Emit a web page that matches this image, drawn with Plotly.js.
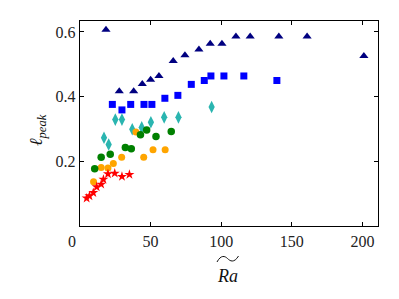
<!DOCTYPE html>
<html>
<head>
<meta charset="utf-8">
<script src="https://cdn.plot.ly/plotly-3.0.1.min.js"></script>
<style>html,body{margin:0;padding:0;background:#fff;}</style>
</head>
<body>
<div id="chart" style="width:399px;height:299px;"></div>
<script>
// Data
const navyX = [18.4, 27.8, 38.0, 44.1, 50.0, 55.9, 66.0, 74.3, 84.2, 92.2, 100.5, 110.4, 120.5, 140.8, 160.8, 201.0];
const navyY = [0.607, 0.417, 0.417, 0.439, 0.452, 0.464, 0.510, 0.528, 0.546, 0.564, 0.564, 0.586, 0.586, 0.586, 0.586, 0.526];

const blueX = [22.9, 29.7, 35.9, 45.3, 50.9, 60.1, 69.3, 78.8, 88.0, 92.7, 101.9, 116.0, 139.4];
const blueY = [0.376, 0.359, 0.376, 0.376, 0.376, 0.395, 0.404, 0.438, 0.450, 0.464, 0.464, 0.464, 0.450];

const cyanX = [17.0, 20.3, 25.0, 29.7, 37.0, 43.7, 50.2, 59.6, 69.7, 93.2];
const cyanY = [0.273, 0.252, 0.329, 0.329, 0.299, 0.305, 0.321, 0.336, 0.336, 0.368];

const orangeX = [9.6, 15.0, 19.8, 23.6, 29.5, 39.6, 45.1, 51.7, 60.3];
const orangeY = [0.137, 0.181, 0.179, 0.193, 0.213, 0.291, 0.213, 0.236, 0.236];

const greenX = [10.4, 15.0, 21.4, 32.1, 36.3, 42.8, 47.2, 53.8, 64.6];
const greenY = [0.177, 0.213, 0.222, 0.243, 0.239, 0.282, 0.297, 0.277, 0.292];

const redX = [4.7, 6.7, 9.4, 11.8, 15.0, 16.6, 19.8, 24.6, 29.7, 35.0];
const redY = [0.086, 0.093, 0.103, 0.121, 0.129, 0.144, 0.161, 0.163, 0.153, 0.159];

const xTicks = [50, 100, 150, 200];
const yTicks = [0.2, 0.4, 0.6];

function tr(x, y, sym, color, size) {
  return {x: x, y: y, type: 'scatter', mode: 'markers',
    marker: {symbol: sym, color: color, size: size, line: {width: 0}},
    hoverinfo: 'skip', showlegend: false};
}

const data = [
  tr(navyX, navyY, 'triangle-up', '#000080', 8),
  tr(blueX, blueY, 'square', '#0000FF', 7),
  tr(cyanX, cyanY, 'diamond-tall', '#2AB5B0', 9),
  tr(orangeX, orangeY, 'circle', '#FFA500', 7),
  tr(greenX, greenY, 'circle', '#008000', 7.5),
  tr(redX, redY, 'star', '#FF0000', 7.5)
];

const L = 80, R = 378, T = 21, B = 226;
function px(x) { return (x - L) / (R - L); }
function py(y) { return (B - y) / (B - T); }

const tickFont = {family: 'Liberation Serif, DejaVu Serif, serif', size: 16, color: '#222'};
const mathFont = {family: 'Liberation Serif, DejaVu Serif, serif', size: 18, color: '#111'};

const tilde = 'M ' + px(217) + ',' + py(262) +
  ' C ' + px(221) + ',' + py(254.5) + ' ' + px(225) + ',' + py(256) + ' ' + px(227.5) + ',' + py(258.5) +
  ' C ' + px(230) + ',' + py(261) + ' ' + px(234) + ',' + py(263.5) + ' ' + px(238.5) + ',' + py(256);

const axisCommon = {
  showline: true, linecolor: '#000', linewidth: 1.3, mirror: 'ticks',
  ticks: 'inside', ticklen: 4, tickwidth: 1, tickcolor: '#000',
  showgrid: false, zeroline: false, tickfont: tickFont, fixedrange: true
};

const layout = {
  width: 399, height: 299,
  margin: {l: L, r: 399 - R, t: T, b: 299 - B, pad: 0},
  paper_bgcolor: '#fff', plot_bgcolor: '#fff',
  showlegend: false,
  xaxis: Object.assign({}, axisCommon, {range: [0, 211], tickvals: xTicks, ticktext: xTicks.map(String)}),
  yaxis: Object.assign({}, axisCommon, {range: [0, 0.634], tickvals: yTicks, ticktext: yTicks.map(v => v.toFixed(1))}),
  annotations: [
    {xref: 'paper', yref: 'paper', x: px(72), y: py(241), text: '0', showarrow: false,
     xanchor: 'center', yanchor: 'middle', font: tickFont},
    {xref: 'paper', yref: 'paper', x: px(227.5), y: py(276), text: '<i>Ra</i>', showarrow: false,
     xanchor: 'center', yanchor: 'middle', font: mathFont},
    {xref: 'paper', yref: 'paper', x: px(37), y: py(130), text: '<i>ℓ</i><sub><i>peak</i></sub>', showarrow: false,
     textangle: -90, xanchor: 'center', yanchor: 'middle', font: mathFont}
  ],
  shapes: [
    {type: 'path', xref: 'paper', yref: 'paper', path: tilde, line: {color: '#111', width: 1}}
  ]
};

Plotly.newPlot('chart', data, layout, {staticPlot: true, displayModeBar: false});
</script>
</body>
</html>
